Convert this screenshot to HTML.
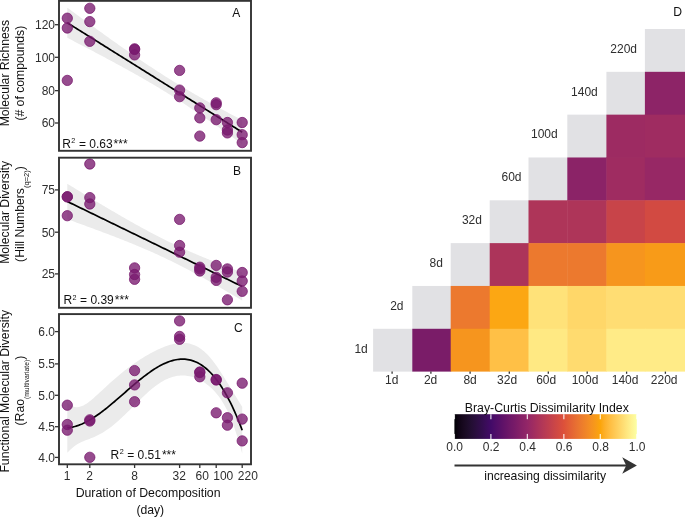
<!DOCTYPE html><html><head><meta charset="utf-8"><style>html,body{margin:0;padding:0;background:#fff;}svg{display:block;will-change:transform;font-family:"Liberation Sans",sans-serif;}</style></head><body>
<svg width="685" height="517" viewBox="0 0 685 517">
<rect width="685" height="517" fill="#fff"/>
<clipPath id="clipA"><rect x="59" y="0.85" width="192" height="149.95000000000002"/></clipPath>
<g clip-path="url(#clipA)">
<polygon points="67.30,37.82 68.77,38.58 70.24,39.34 71.71,40.11 73.18,40.87 74.65,41.63 76.12,42.39 77.59,43.16 79.06,43.92 80.53,44.69 82.00,45.46 83.47,46.22 84.94,46.99 86.41,47.76 87.88,48.53 89.35,49.30 90.82,50.08 92.29,50.85 93.76,51.62 95.23,52.40 96.69,53.17 98.16,53.95 99.63,54.73 101.10,55.51 102.57,56.29 104.04,57.08 105.51,57.86 106.98,58.65 108.45,59.43 109.92,60.22 111.39,61.01 112.86,61.80 114.33,62.60 115.80,63.39 117.27,64.19 118.74,64.99 120.21,65.79 121.68,66.60 123.15,67.40 124.62,68.21 126.09,69.02 127.56,69.83 129.03,70.65 130.50,71.47 131.97,72.29 133.44,73.11 134.91,73.94 136.38,74.77 137.85,75.60 139.32,76.44 140.79,77.27 142.26,78.12 143.73,78.96 145.20,79.81 146.67,80.66 148.14,81.52 149.61,82.38 151.08,83.24 152.55,84.11 154.02,84.98 155.48,85.86 156.95,86.74 158.42,87.62 159.89,88.51 161.36,89.40 162.83,90.30 164.30,91.20 165.77,92.10 167.24,93.01 168.71,93.93 170.18,94.85 171.65,95.77 173.12,96.70 174.59,97.63 176.06,98.57 177.53,99.51 179.00,100.45 180.47,101.40 181.94,102.36 183.41,103.32 184.88,104.28 186.35,105.25 187.82,106.22 189.29,107.19 190.76,108.17 192.23,109.15 193.70,110.14 195.17,111.13 196.64,112.12 198.11,113.12 199.58,114.12 201.05,115.12 202.52,116.12 203.99,117.13 205.46,118.15 206.93,119.16 208.40,120.18 209.87,121.20 211.34,122.22 212.81,123.25 214.27,124.28 215.74,125.31 217.21,126.34 218.68,127.37 220.15,128.41 221.62,129.45 223.09,130.49 224.56,131.53 226.03,132.58 227.50,133.62 228.97,134.67 230.44,135.72 231.91,136.77 233.38,137.82 234.85,138.88 236.32,139.94 237.79,140.99 239.26,142.05 240.73,143.11 242.20,144.17 242.20,120.19 240.73,119.41 239.26,118.64 237.79,117.85 236.32,117.07 234.85,116.29 233.38,115.51 231.91,114.72 230.44,113.93 228.97,113.14 227.50,112.35 226.03,111.56 224.56,110.76 223.09,109.97 221.62,109.17 220.15,108.37 218.68,107.57 217.21,106.76 215.74,105.96 214.27,105.15 212.81,104.34 211.34,103.52 209.87,102.71 208.40,101.89 206.93,101.07 205.46,100.24 203.99,99.42 202.52,98.59 201.05,97.75 199.58,96.92 198.11,96.08 196.64,95.24 195.17,94.39 193.70,93.54 192.23,92.69 190.76,91.83 189.29,90.97 187.82,90.11 186.35,89.24 184.88,88.36 183.41,87.49 181.94,86.61 180.47,85.72 179.00,84.83 177.53,83.94 176.06,83.04 174.59,82.14 173.12,81.23 171.65,80.32 170.18,79.41 168.71,78.49 167.24,77.56 165.77,76.63 164.30,75.70 162.83,74.76 161.36,73.82 159.89,72.87 158.42,71.92 156.95,70.97 155.48,70.01 154.02,69.05 152.55,68.08 151.08,67.11 149.61,66.13 148.14,65.15 146.67,64.17 145.20,63.18 143.73,62.19 142.26,61.20 140.79,60.20 139.32,59.20 137.85,58.20 136.38,57.19 134.91,56.18 133.44,55.17 131.97,54.15 130.50,53.13 129.03,52.11 127.56,51.09 126.09,50.06 124.62,49.04 123.15,48.00 121.68,46.97 120.21,45.94 118.74,44.90 117.27,43.86 115.80,42.82 114.33,41.78 112.86,40.73 111.39,39.68 109.92,38.64 108.45,37.58 106.98,36.53 105.51,35.48 104.04,34.43 102.57,33.37 101.10,32.31 99.63,31.25 98.16,30.19 96.69,29.13 95.23,28.07 93.76,27.01 92.29,25.94 90.82,24.88 89.35,23.81 87.88,22.74 86.41,21.67 84.94,20.60 83.47,19.53 82.00,18.46 80.53,17.39 79.06,16.32 77.59,15.24 76.12,14.17 74.65,13.09 73.18,12.02 71.71,10.94 70.24,9.86 68.77,8.78 67.30,7.70" fill="#ebebeb"/>
<polyline points="67.30,22.76 68.77,23.68 70.24,24.60 71.71,25.52 73.18,26.44 74.65,27.36 76.12,28.28 77.59,29.20 79.06,30.12 80.53,31.04 82.00,31.96 83.47,32.88 84.94,33.80 86.41,34.72 87.88,35.64 89.35,36.56 90.82,37.48 92.29,38.39 93.76,39.31 95.23,40.23 96.69,41.15 98.16,42.07 99.63,42.99 101.10,43.91 102.57,44.83 104.04,45.75 105.51,46.67 106.98,47.59 108.45,48.51 109.92,49.43 111.39,50.35 112.86,51.27 114.33,52.19 115.80,53.11 117.27,54.03 118.74,54.95 120.21,55.86 121.68,56.78 123.15,57.70 124.62,58.62 126.09,59.54 127.56,60.46 129.03,61.38 130.50,62.30 131.97,63.22 133.44,64.14 134.91,65.06 136.38,65.98 137.85,66.90 139.32,67.82 140.79,68.74 142.26,69.66 143.73,70.58 145.20,71.50 146.67,72.42 148.14,73.34 149.61,74.25 151.08,75.17 152.55,76.09 154.02,77.01 155.48,77.93 156.95,78.85 158.42,79.77 159.89,80.69 161.36,81.61 162.83,82.53 164.30,83.45 165.77,84.37 167.24,85.29 168.71,86.21 170.18,87.13 171.65,88.05 173.12,88.97 174.59,89.89 176.06,90.81 177.53,91.72 179.00,92.64 180.47,93.56 181.94,94.48 183.41,95.40 184.88,96.32 186.35,97.24 187.82,98.16 189.29,99.08 190.76,100.00 192.23,100.92 193.70,101.84 195.17,102.76 196.64,103.68 198.11,104.60 199.58,105.52 201.05,106.44 202.52,107.36 203.99,108.28 205.46,109.19 206.93,110.11 208.40,111.03 209.87,111.95 211.34,112.87 212.81,113.79 214.27,114.71 215.74,115.63 217.21,116.55 218.68,117.47 220.15,118.39 221.62,119.31 223.09,120.23 224.56,121.15 226.03,122.07 227.50,122.99 228.97,123.91 230.44,124.83 231.91,125.75 233.38,126.67 234.85,127.58 236.32,128.50 237.79,129.42 239.26,130.34 240.73,131.26 242.20,132.18" fill="none" stroke="#000" stroke-width="1.7" stroke-linejoin="round"/>
<circle cx="67.3" cy="18.2" r="5.15" fill="rgba(120,25,110,0.78)" stroke="rgba(120,25,110,0.78)" stroke-width="1.0"/>
<circle cx="67.3" cy="28.0" r="5.15" fill="rgba(120,25,110,0.78)" stroke="rgba(120,25,110,0.78)" stroke-width="1.0"/>
<circle cx="67.3" cy="80.4" r="5.15" fill="rgba(120,25,110,0.78)" stroke="rgba(120,25,110,0.78)" stroke-width="1.0"/>
<circle cx="89.8" cy="8.3" r="5.15" fill="rgba(120,25,110,0.78)" stroke="rgba(120,25,110,0.78)" stroke-width="1.0"/>
<circle cx="89.8" cy="21.6" r="5.15" fill="rgba(120,25,110,0.78)" stroke="rgba(120,25,110,0.78)" stroke-width="1.0"/>
<circle cx="89.8" cy="41.3" r="5.15" fill="rgba(120,25,110,0.78)" stroke="rgba(120,25,110,0.78)" stroke-width="1.0"/>
<circle cx="134.6" cy="48.8" r="5.15" fill="rgba(120,25,110,0.78)" stroke="rgba(120,25,110,0.78)" stroke-width="1.0"/>
<circle cx="134.6" cy="49.5" r="5.15" fill="rgba(120,25,110,0.78)" stroke="rgba(120,25,110,0.78)" stroke-width="1.0"/>
<circle cx="134.6" cy="54.9" r="5.15" fill="rgba(120,25,110,0.78)" stroke="rgba(120,25,110,0.78)" stroke-width="1.0"/>
<circle cx="179.6" cy="70.4" r="5.15" fill="rgba(120,25,110,0.78)" stroke="rgba(120,25,110,0.78)" stroke-width="1.0"/>
<circle cx="179.6" cy="90.1" r="5.15" fill="rgba(120,25,110,0.78)" stroke="rgba(120,25,110,0.78)" stroke-width="1.0"/>
<circle cx="179.6" cy="96.7" r="5.15" fill="rgba(120,25,110,0.78)" stroke="rgba(120,25,110,0.78)" stroke-width="1.0"/>
<circle cx="199.8" cy="107.9" r="5.15" fill="rgba(120,25,110,0.78)" stroke="rgba(120,25,110,0.78)" stroke-width="1.0"/>
<circle cx="199.8" cy="117.9" r="5.15" fill="rgba(120,25,110,0.78)" stroke="rgba(120,25,110,0.78)" stroke-width="1.0"/>
<circle cx="199.8" cy="136.1" r="5.15" fill="rgba(120,25,110,0.78)" stroke="rgba(120,25,110,0.78)" stroke-width="1.0"/>
<circle cx="216.2" cy="102.8" r="5.15" fill="rgba(120,25,110,0.78)" stroke="rgba(120,25,110,0.78)" stroke-width="1.0"/>
<circle cx="216.2" cy="104.7" r="5.15" fill="rgba(120,25,110,0.78)" stroke="rgba(120,25,110,0.78)" stroke-width="1.0"/>
<circle cx="216.2" cy="119.7" r="5.15" fill="rgba(120,25,110,0.78)" stroke="rgba(120,25,110,0.78)" stroke-width="1.0"/>
<circle cx="227.4" cy="122.5" r="5.15" fill="rgba(120,25,110,0.78)" stroke="rgba(120,25,110,0.78)" stroke-width="1.0"/>
<circle cx="227.4" cy="130" r="5.15" fill="rgba(120,25,110,0.78)" stroke="rgba(120,25,110,0.78)" stroke-width="1.0"/>
<circle cx="227.4" cy="132.9" r="5.15" fill="rgba(120,25,110,0.78)" stroke="rgba(120,25,110,0.78)" stroke-width="1.0"/>
<circle cx="242.2" cy="122.5" r="5.15" fill="rgba(120,25,110,0.78)" stroke="rgba(120,25,110,0.78)" stroke-width="1.0"/>
<circle cx="242.2" cy="134.7" r="5.15" fill="rgba(120,25,110,0.78)" stroke="rgba(120,25,110,0.78)" stroke-width="1.0"/>
<circle cx="242.2" cy="142.6" r="5.15" fill="rgba(120,25,110,0.78)" stroke="rgba(120,25,110,0.78)" stroke-width="1.0"/>
</g>
<rect x="59" y="0.85" width="192" height="149.95000000000002" fill="none" stroke="#333333" stroke-width="1.9"/>
<line x1="55" y1="24.7" x2="59" y2="24.7" stroke="#333333" stroke-width="1.3"/>
<text x="55" y="29.00" font-size="12" text-anchor="end" fill="#2e2e2e">120</text>
<line x1="55" y1="57.3" x2="59" y2="57.3" stroke="#333333" stroke-width="1.3"/>
<text x="55" y="61.60" font-size="12" text-anchor="end" fill="#2e2e2e">100</text>
<line x1="55" y1="90.65" x2="59" y2="90.65" stroke="#333333" stroke-width="1.3"/>
<text x="55" y="94.95" font-size="12" text-anchor="end" fill="#2e2e2e">80</text>
<line x1="55" y1="123.0" x2="59" y2="123.0" stroke="#333333" stroke-width="1.3"/>
<text x="55" y="127.30" font-size="12" text-anchor="end" fill="#2e2e2e">60</text>
<text x="62.20" y="147.5" font-size="12" fill="#111">R<tspan font-size="7.2" dx="0.5" dy="-4.2">2</tspan><tspan dy="4.2" dx="0.2"> = 0.63<tspan dx="1">***</tspan></tspan></text>
<text x="232.3" y="16.9" font-size="12" fill="#111">A</text>
<clipPath id="clipB"><rect x="59" y="157.7" width="192" height="150.10000000000002"/></clipPath>
<g clip-path="url(#clipB)">
<polygon points="67.30,219.23 68.77,219.76 70.24,220.29 71.71,220.81 73.18,221.34 74.65,221.87 76.12,222.40 77.59,222.94 79.06,223.47 80.53,224.00 82.00,224.54 83.47,225.07 84.94,225.61 86.41,226.15 87.88,226.68 89.35,227.22 90.82,227.76 92.29,228.31 93.76,228.85 95.23,229.39 96.69,229.94 98.16,230.49 99.63,231.04 101.10,231.59 102.57,232.14 104.04,232.69 105.51,233.25 106.98,233.80 108.45,234.36 109.92,234.92 111.39,235.49 112.86,236.05 114.33,236.62 115.80,237.19 117.27,237.76 118.74,238.33 120.21,238.91 121.68,239.48 123.15,240.06 124.62,240.65 126.09,241.23 127.56,241.82 129.03,242.41 130.50,243.01 131.97,243.61 133.44,244.21 134.91,244.81 136.38,245.42 137.85,246.03 139.32,246.65 140.79,247.27 142.26,247.89 143.73,248.52 145.20,249.15 146.67,249.78 148.14,250.42 149.61,251.07 151.08,251.71 152.55,252.37 154.02,253.03 155.48,253.69 156.95,254.36 158.42,255.03 159.89,255.71 161.36,256.39 162.83,257.08 164.30,257.77 165.77,258.47 167.24,259.17 168.71,259.88 170.18,260.59 171.65,261.31 173.12,262.03 174.59,262.76 176.06,263.50 177.53,264.24 179.00,264.98 180.47,265.73 181.94,266.49 183.41,267.25 184.88,268.01 186.35,268.78 187.82,269.56 189.29,270.34 190.76,271.12 192.23,271.91 193.70,272.70 195.17,273.50 196.64,274.30 198.11,275.10 199.58,275.91 201.05,276.72 202.52,277.54 203.99,278.36 205.46,279.18 206.93,280.01 208.40,280.84 209.87,281.67 211.34,282.51 212.81,283.35 214.27,284.19 215.74,285.03 217.21,285.88 218.68,286.73 220.15,287.58 221.62,288.44 223.09,289.30 224.56,290.16 226.03,291.02 227.50,291.88 228.97,292.75 230.44,293.61 231.91,294.48 233.38,295.35 234.85,296.23 236.32,297.10 237.79,297.98 239.26,298.86 240.73,299.74 242.20,300.62 242.20,272.39 240.73,271.84 239.26,271.29 237.79,270.74 236.32,270.19 234.85,269.63 233.38,269.08 231.91,268.52 230.44,267.96 228.97,267.40 227.50,266.84 226.03,266.27 224.56,265.71 223.09,265.14 221.62,264.57 220.15,263.99 218.68,263.42 217.21,262.84 215.74,262.26 214.27,261.67 212.81,261.08 211.34,260.50 209.87,259.90 208.40,259.31 206.93,258.71 205.46,258.11 203.99,257.50 202.52,256.89 201.05,256.28 199.58,255.66 198.11,255.04 196.64,254.42 195.17,253.79 193.70,253.16 192.23,252.52 190.76,251.88 189.29,251.24 187.82,250.59 186.35,249.94 184.88,249.28 183.41,248.61 181.94,247.94 180.47,247.27 179.00,246.59 177.53,245.91 176.06,245.22 174.59,244.53 173.12,243.83 171.65,243.12 170.18,242.41 168.71,241.70 167.24,240.98 165.77,240.25 164.30,239.52 162.83,238.79 161.36,238.04 159.89,237.30 158.42,236.55 156.95,235.79 155.48,235.03 154.02,234.26 152.55,233.49 151.08,232.72 149.61,231.94 148.14,231.15 146.67,230.36 145.20,229.57 143.73,228.77 142.26,227.97 140.79,227.17 139.32,226.36 137.85,225.54 136.38,224.73 134.91,223.91 133.44,223.08 131.97,222.25 130.50,221.42 129.03,220.59 127.56,219.75 126.09,218.91 124.62,218.07 123.15,217.23 121.68,216.38 120.21,215.53 118.74,214.67 117.27,213.82 115.80,212.96 114.33,212.10 112.86,211.24 111.39,210.38 109.92,209.51 108.45,208.64 106.98,207.77 105.51,206.90 104.04,206.03 102.57,205.15 101.10,204.27 99.63,203.40 98.16,202.52 96.69,201.63 95.23,200.75 93.76,199.87 92.29,198.98 90.82,198.10 89.35,197.21 87.88,196.32 86.41,195.43 84.94,194.54 83.47,193.65 82.00,192.75 80.53,191.86 79.06,190.96 77.59,190.07 76.12,189.17 74.65,188.27 73.18,187.37 71.71,186.48 70.24,185.58 68.77,184.67 67.30,183.77" fill="#ebebeb"/>
<polyline points="67.30,201.50 68.77,202.22 70.24,202.93 71.71,203.64 73.18,204.36 74.65,205.07 76.12,205.79 77.59,206.50 79.06,207.22 80.53,207.93 82.00,208.64 83.47,209.36 84.94,210.07 86.41,210.79 87.88,211.50 89.35,212.22 90.82,212.93 92.29,213.64 93.76,214.36 95.23,215.07 96.69,215.79 98.16,216.50 99.63,217.22 101.10,217.93 102.57,218.64 104.04,219.36 105.51,220.07 106.98,220.79 108.45,221.50 109.92,222.22 111.39,222.93 112.86,223.64 114.33,224.36 115.80,225.07 117.27,225.79 118.74,226.50 120.21,227.22 121.68,227.93 123.15,228.64 124.62,229.36 126.09,230.07 127.56,230.79 129.03,231.50 130.50,232.22 131.97,232.93 133.44,233.64 134.91,234.36 136.38,235.07 137.85,235.79 139.32,236.50 140.79,237.22 142.26,237.93 143.73,238.64 145.20,239.36 146.67,240.07 148.14,240.79 149.61,241.50 151.08,242.22 152.55,242.93 154.02,243.64 155.48,244.36 156.95,245.07 158.42,245.79 159.89,246.50 161.36,247.22 162.83,247.93 164.30,248.64 165.77,249.36 167.24,250.07 168.71,250.79 170.18,251.50 171.65,252.22 173.12,252.93 174.59,253.64 176.06,254.36 177.53,255.07 179.00,255.79 180.47,256.50 181.94,257.22 183.41,257.93 184.88,258.64 186.35,259.36 187.82,260.07 189.29,260.79 190.76,261.50 192.23,262.22 193.70,262.93 195.17,263.64 196.64,264.36 198.11,265.07 199.58,265.79 201.05,266.50 202.52,267.22 203.99,267.93 205.46,268.64 206.93,269.36 208.40,270.07 209.87,270.79 211.34,271.50 212.81,272.22 214.27,272.93 215.74,273.64 217.21,274.36 218.68,275.07 220.15,275.79 221.62,276.50 223.09,277.22 224.56,277.93 226.03,278.64 227.50,279.36 228.97,280.07 230.44,280.79 231.91,281.50 233.38,282.22 234.85,282.93 236.32,283.64 237.79,284.36 239.26,285.07 240.73,285.79 242.20,286.50" fill="none" stroke="#000" stroke-width="1.7" stroke-linejoin="round"/>
<circle cx="67.3" cy="196.7" r="5.15" fill="rgba(120,25,110,0.78)" stroke="rgba(120,25,110,0.78)" stroke-width="1.0"/>
<circle cx="67.3" cy="196.9" r="5.15" fill="rgba(120,25,110,0.78)" stroke="rgba(120,25,110,0.78)" stroke-width="1.0"/>
<circle cx="67.3" cy="215.7" r="5.15" fill="rgba(120,25,110,0.78)" stroke="rgba(120,25,110,0.78)" stroke-width="1.0"/>
<circle cx="89.8" cy="164.0" r="5.15" fill="rgba(120,25,110,0.78)" stroke="rgba(120,25,110,0.78)" stroke-width="1.0"/>
<circle cx="89.8" cy="197.6" r="5.15" fill="rgba(120,25,110,0.78)" stroke="rgba(120,25,110,0.78)" stroke-width="1.0"/>
<circle cx="89.8" cy="204" r="5.15" fill="rgba(120,25,110,0.78)" stroke="rgba(120,25,110,0.78)" stroke-width="1.0"/>
<circle cx="134.6" cy="267.9" r="5.15" fill="rgba(120,25,110,0.78)" stroke="rgba(120,25,110,0.78)" stroke-width="1.0"/>
<circle cx="134.6" cy="274.5" r="5.15" fill="rgba(120,25,110,0.78)" stroke="rgba(120,25,110,0.78)" stroke-width="1.0"/>
<circle cx="134.6" cy="279.3" r="5.15" fill="rgba(120,25,110,0.78)" stroke="rgba(120,25,110,0.78)" stroke-width="1.0"/>
<circle cx="179.6" cy="219.4" r="5.15" fill="rgba(120,25,110,0.78)" stroke="rgba(120,25,110,0.78)" stroke-width="1.0"/>
<circle cx="179.6" cy="245.5" r="5.15" fill="rgba(120,25,110,0.78)" stroke="rgba(120,25,110,0.78)" stroke-width="1.0"/>
<circle cx="179.6" cy="252.2" r="5.15" fill="rgba(120,25,110,0.78)" stroke="rgba(120,25,110,0.78)" stroke-width="1.0"/>
<circle cx="199.8" cy="267.2" r="5.15" fill="rgba(120,25,110,0.78)" stroke="rgba(120,25,110,0.78)" stroke-width="1.0"/>
<circle cx="199.8" cy="268.9" r="5.15" fill="rgba(120,25,110,0.78)" stroke="rgba(120,25,110,0.78)" stroke-width="1.0"/>
<circle cx="199.8" cy="271" r="5.15" fill="rgba(120,25,110,0.78)" stroke="rgba(120,25,110,0.78)" stroke-width="1.0"/>
<circle cx="216.2" cy="265.4" r="5.15" fill="rgba(120,25,110,0.78)" stroke="rgba(120,25,110,0.78)" stroke-width="1.0"/>
<circle cx="216.2" cy="277.3" r="5.15" fill="rgba(120,25,110,0.78)" stroke="rgba(120,25,110,0.78)" stroke-width="1.0"/>
<circle cx="216.2" cy="280.4" r="5.15" fill="rgba(120,25,110,0.78)" stroke="rgba(120,25,110,0.78)" stroke-width="1.0"/>
<circle cx="227.4" cy="268.9" r="5.15" fill="rgba(120,25,110,0.78)" stroke="rgba(120,25,110,0.78)" stroke-width="1.0"/>
<circle cx="227.4" cy="272" r="5.15" fill="rgba(120,25,110,0.78)" stroke="rgba(120,25,110,0.78)" stroke-width="1.0"/>
<circle cx="227.4" cy="299.8" r="5.15" fill="rgba(120,25,110,0.78)" stroke="rgba(120,25,110,0.78)" stroke-width="1.0"/>
<circle cx="242.2" cy="272.5" r="5.15" fill="rgba(120,25,110,0.78)" stroke="rgba(120,25,110,0.78)" stroke-width="1.0"/>
<circle cx="242.2" cy="281" r="5.15" fill="rgba(120,25,110,0.78)" stroke="rgba(120,25,110,0.78)" stroke-width="1.0"/>
<circle cx="242.2" cy="291.3" r="5.15" fill="rgba(120,25,110,0.78)" stroke="rgba(120,25,110,0.78)" stroke-width="1.0"/>
</g>
<rect x="59" y="157.7" width="192" height="150.10000000000002" fill="none" stroke="#333333" stroke-width="1.9"/>
<line x1="55" y1="189.9" x2="59" y2="189.9" stroke="#333333" stroke-width="1.3"/>
<text x="55" y="194.20" font-size="12" text-anchor="end" fill="#2e2e2e">75</text>
<line x1="55" y1="232.2" x2="59" y2="232.2" stroke="#333333" stroke-width="1.3"/>
<text x="55" y="236.50" font-size="12" text-anchor="end" fill="#2e2e2e">50</text>
<line x1="55" y1="273.9" x2="59" y2="273.9" stroke="#333333" stroke-width="1.3"/>
<text x="55" y="278.20" font-size="12" text-anchor="end" fill="#2e2e2e">25</text>
<text x="63.40" y="303.9" font-size="12" fill="#111">R<tspan font-size="7.2" dx="0.5" dy="-4.2">2</tspan><tspan dy="4.2" dx="0.2"> = 0.39<tspan dx="1">***</tspan></tspan></text>
<text x="232.9" y="175.1" font-size="12" fill="#111">B</text>
<clipPath id="clipC"><rect x="59" y="314.1" width="192" height="150.2"/></clipPath>
<g clip-path="url(#clipC)">
<polygon points="67.30,452.84 68.77,451.29 70.24,449.83 71.71,448.48 73.18,447.23 74.65,446.09 76.12,445.05 77.59,444.12 79.06,443.27 80.53,442.51 82.00,441.82 83.47,441.18 84.94,440.58 86.41,440.01 87.88,439.46 89.35,438.90 90.82,438.34 92.29,437.76 93.76,437.15 95.23,436.51 96.69,435.83 98.16,435.11 99.63,434.35 101.10,433.55 102.57,432.69 104.04,431.80 105.51,430.85 106.98,429.86 108.45,428.83 109.92,427.75 111.39,426.63 112.86,425.46 114.33,424.26 115.80,423.02 117.27,421.75 118.74,420.45 120.21,419.11 121.68,417.75 123.15,416.37 124.62,414.97 126.09,413.54 127.56,412.10 129.03,410.65 130.50,409.19 131.97,407.72 133.44,406.25 134.91,404.79 136.38,403.32 137.85,401.86 139.32,400.41 140.79,398.98 142.26,397.56 143.73,396.16 145.20,394.78 146.67,393.43 148.14,392.11 149.61,390.82 151.08,389.57 152.55,388.36 154.02,387.19 155.48,386.06 156.95,384.98 158.42,383.96 159.89,382.98 161.36,382.05 162.83,381.19 164.30,380.37 165.77,379.62 167.24,378.93 168.71,378.30 170.18,377.73 171.65,377.23 173.12,376.78 174.59,376.41 176.06,376.09 177.53,375.84 179.00,375.65 180.47,375.53 181.94,375.47 183.41,375.48 184.88,375.55 186.35,375.68 187.82,375.88 189.29,376.14 190.76,376.46 192.23,376.85 193.70,377.30 195.17,377.81 196.64,378.39 198.11,379.04 199.58,379.75 201.05,380.53 202.52,381.38 203.99,382.31 205.46,383.30 206.93,384.38 208.40,385.53 209.87,386.77 211.34,388.10 212.81,389.52 214.27,391.05 215.74,392.68 217.21,394.44 218.68,396.32 220.15,398.35 221.62,400.53 223.09,402.88 224.56,405.41 226.03,408.14 227.50,411.07 228.97,414.23 230.44,417.63 231.91,421.26 233.38,425.14 234.85,429.28 236.32,433.66 237.79,438.30 239.26,443.18 240.73,448.32 242.20,453.72 242.20,406.79 240.73,404.42 239.26,402.05 237.79,399.68 236.32,397.31 234.85,394.94 233.38,392.55 231.91,390.16 230.44,387.76 228.97,385.35 227.50,382.94 226.03,380.54 224.56,378.15 223.09,375.78 221.62,373.45 220.15,371.16 218.68,368.94 217.21,366.78 215.74,364.70 214.27,362.69 212.81,360.78 211.34,358.96 209.87,357.24 208.40,355.62 206.93,354.10 205.46,352.68 203.99,351.36 202.52,350.15 201.05,349.03 199.58,348.02 198.11,347.10 196.64,346.28 195.17,345.56 193.70,344.93 192.23,344.38 190.76,343.92 189.29,343.55 187.82,343.25 186.35,343.04 184.88,342.89 183.41,342.82 181.94,342.82 180.47,342.88 179.00,342.99 177.53,343.17 176.06,343.40 174.59,343.68 173.12,344.01 171.65,344.38 170.18,344.80 168.71,345.25 167.24,345.74 165.77,346.27 164.30,346.82 162.83,347.41 161.36,348.03 159.89,348.67 158.42,349.33 156.95,350.02 155.48,350.74 154.02,351.48 152.55,352.23 151.08,353.01 149.61,353.81 148.14,354.64 146.67,355.48 145.20,356.34 143.73,357.23 142.26,358.13 140.79,359.05 139.32,360.00 137.85,360.96 136.38,361.95 134.91,362.96 133.44,363.99 131.97,365.03 130.50,366.10 129.03,367.19 127.56,368.31 126.09,369.44 124.62,370.59 123.15,371.76 121.68,372.95 120.21,374.16 118.74,375.39 117.27,376.64 115.80,377.91 114.33,379.19 112.86,380.49 111.39,381.80 109.92,383.12 108.45,384.46 106.98,385.81 105.51,387.16 104.04,388.53 102.57,389.89 101.10,391.25 99.63,392.61 98.16,393.96 96.69,395.30 95.23,396.62 93.76,397.91 92.29,399.17 90.82,400.39 89.35,401.55 87.88,402.64 86.41,403.66 84.94,404.58 83.47,405.38 82.00,406.06 80.53,406.59 79.06,406.95 77.59,407.14 76.12,407.13 74.65,406.91 73.18,406.48 71.71,405.84 70.24,404.97 68.77,403.89 67.30,402.58" fill="#ebebeb"/>
<polyline points="67.30,427.71 68.77,427.59 70.24,427.40 71.71,427.16 73.18,426.86 74.65,426.50 76.12,426.09 77.59,425.63 79.06,425.11 80.53,424.55 82.00,423.94 83.47,423.28 84.94,422.58 86.41,421.84 87.88,421.05 89.35,420.23 90.82,419.36 92.29,418.46 93.76,417.53 95.23,416.56 96.69,415.57 98.16,414.54 99.63,413.48 101.10,412.40 102.57,411.29 104.04,410.16 105.51,409.01 106.98,407.84 108.45,406.64 109.92,405.44 111.39,404.21 112.86,402.97 114.33,401.73 115.80,400.47 117.27,399.20 118.74,397.92 120.21,396.64 121.68,395.35 123.15,394.07 124.62,392.78 126.09,391.49 127.56,390.20 129.03,388.92 130.50,387.65 131.97,386.38 133.44,385.12 134.91,383.87 136.38,382.63 137.85,381.41 139.32,380.20 140.79,379.01 142.26,377.84 143.73,376.69 145.20,375.56 146.67,374.46 148.14,373.37 149.61,372.32 151.08,371.29 152.55,370.30 154.02,369.33 155.48,368.40 156.95,367.50 158.42,366.64 159.89,365.82 161.36,365.04 162.83,364.30 164.30,363.60 165.77,362.94 167.24,362.34 168.71,361.78 170.18,361.27 171.65,360.81 173.12,360.40 174.59,360.04 176.06,359.75 177.53,359.51 179.00,359.32 180.47,359.20 181.94,359.15 183.41,359.15 184.88,359.22 186.35,359.36 187.82,359.57 189.29,359.84 190.76,360.19 192.23,360.61 193.70,361.11 195.17,361.69 196.64,362.34 198.11,363.07 199.58,363.88 201.05,364.78 202.52,365.76 203.99,366.83 205.46,367.99 206.93,369.24 208.40,370.57 209.87,372.00 211.34,373.53 212.81,375.15 214.27,376.87 215.74,378.69 217.21,380.61 218.68,382.63 220.15,384.76 221.62,386.99 223.09,389.33 224.56,391.78 226.03,394.34 227.50,397.01 228.97,399.79 230.44,402.69 231.91,405.71 233.38,408.85 234.85,412.11 236.32,415.49 237.79,418.99 239.26,422.62 240.73,426.37 242.20,430.25" fill="none" stroke="#000" stroke-width="1.7" stroke-linejoin="round"/>
<circle cx="67.3" cy="405.2" r="5.15" fill="rgba(120,25,110,0.78)" stroke="rgba(120,25,110,0.78)" stroke-width="1.0"/>
<circle cx="67.3" cy="424.5" r="5.15" fill="rgba(120,25,110,0.78)" stroke="rgba(120,25,110,0.78)" stroke-width="1.0"/>
<circle cx="67.3" cy="430.2" r="5.15" fill="rgba(120,25,110,0.78)" stroke="rgba(120,25,110,0.78)" stroke-width="1.0"/>
<circle cx="89.8" cy="419.8" r="5.15" fill="rgba(120,25,110,0.78)" stroke="rgba(120,25,110,0.78)" stroke-width="1.0"/>
<circle cx="89.8" cy="421" r="5.15" fill="rgba(120,25,110,0.78)" stroke="rgba(120,25,110,0.78)" stroke-width="1.0"/>
<circle cx="89.8" cy="457.3" r="5.15" fill="rgba(120,25,110,0.78)" stroke="rgba(120,25,110,0.78)" stroke-width="1.0"/>
<circle cx="134.6" cy="370.6" r="5.15" fill="rgba(120,25,110,0.78)" stroke="rgba(120,25,110,0.78)" stroke-width="1.0"/>
<circle cx="134.6" cy="384.9" r="5.15" fill="rgba(120,25,110,0.78)" stroke="rgba(120,25,110,0.78)" stroke-width="1.0"/>
<circle cx="134.6" cy="401.7" r="5.15" fill="rgba(120,25,110,0.78)" stroke="rgba(120,25,110,0.78)" stroke-width="1.0"/>
<circle cx="179.6" cy="320.9" r="5.15" fill="rgba(120,25,110,0.78)" stroke="rgba(120,25,110,0.78)" stroke-width="1.0"/>
<circle cx="179.6" cy="336.4" r="5.15" fill="rgba(120,25,110,0.78)" stroke="rgba(120,25,110,0.78)" stroke-width="1.0"/>
<circle cx="179.6" cy="339.3" r="5.15" fill="rgba(120,25,110,0.78)" stroke="rgba(120,25,110,0.78)" stroke-width="1.0"/>
<circle cx="199.8" cy="372" r="5.15" fill="rgba(120,25,110,0.78)" stroke="rgba(120,25,110,0.78)" stroke-width="1.0"/>
<circle cx="199.8" cy="372.5" r="5.15" fill="rgba(120,25,110,0.78)" stroke="rgba(120,25,110,0.78)" stroke-width="1.0"/>
<circle cx="199.8" cy="376.8" r="5.15" fill="rgba(120,25,110,0.78)" stroke="rgba(120,25,110,0.78)" stroke-width="1.0"/>
<circle cx="216.2" cy="379.5" r="5.15" fill="rgba(120,25,110,0.78)" stroke="rgba(120,25,110,0.78)" stroke-width="1.0"/>
<circle cx="216.2" cy="380" r="5.15" fill="rgba(120,25,110,0.78)" stroke="rgba(120,25,110,0.78)" stroke-width="1.0"/>
<circle cx="216.2" cy="412.8" r="5.15" fill="rgba(120,25,110,0.78)" stroke="rgba(120,25,110,0.78)" stroke-width="1.0"/>
<circle cx="227.4" cy="392.8" r="5.15" fill="rgba(120,25,110,0.78)" stroke="rgba(120,25,110,0.78)" stroke-width="1.0"/>
<circle cx="227.4" cy="417.7" r="5.15" fill="rgba(120,25,110,0.78)" stroke="rgba(120,25,110,0.78)" stroke-width="1.0"/>
<circle cx="227.4" cy="425.2" r="5.15" fill="rgba(120,25,110,0.78)" stroke="rgba(120,25,110,0.78)" stroke-width="1.0"/>
<circle cx="242.2" cy="383.2" r="5.15" fill="rgba(120,25,110,0.78)" stroke="rgba(120,25,110,0.78)" stroke-width="1.0"/>
<circle cx="242.2" cy="419.1" r="5.15" fill="rgba(120,25,110,0.78)" stroke="rgba(120,25,110,0.78)" stroke-width="1.0"/>
<circle cx="242.2" cy="440.9" r="5.15" fill="rgba(120,25,110,0.78)" stroke="rgba(120,25,110,0.78)" stroke-width="1.0"/>
</g>
<rect x="59" y="314.1" width="192" height="150.2" fill="none" stroke="#333333" stroke-width="1.9"/>
<line x1="55" y1="331.6" x2="59" y2="331.6" stroke="#333333" stroke-width="1.3"/>
<text x="55" y="335.90" font-size="12" text-anchor="end" fill="#2e2e2e">6.0</text>
<line x1="55" y1="363.9" x2="59" y2="363.9" stroke="#333333" stroke-width="1.3"/>
<text x="55" y="368.20" font-size="12" text-anchor="end" fill="#2e2e2e">5.5</text>
<line x1="55" y1="395.3" x2="59" y2="395.3" stroke="#333333" stroke-width="1.3"/>
<text x="55" y="399.60" font-size="12" text-anchor="end" fill="#2e2e2e">5.0</text>
<line x1="55" y1="426.7" x2="59" y2="426.7" stroke="#333333" stroke-width="1.3"/>
<text x="55" y="431.00" font-size="12" text-anchor="end" fill="#2e2e2e">4.5</text>
<line x1="55" y1="457.4" x2="59" y2="457.4" stroke="#333333" stroke-width="1.3"/>
<text x="55" y="461.70" font-size="12" text-anchor="end" fill="#2e2e2e">4.0</text>
<text x="110.50" y="458.5" font-size="12" fill="#111">R<tspan font-size="7.2" dx="0.5" dy="-4.2">2</tspan><tspan dy="4.2" dx="0.2"> = 0.51<tspan dx="1">***</tspan></tspan></text>
<text x="234.1" y="331.8" font-size="12" fill="#111">C</text>
<line x1="67.3" y1="464.3" x2="67.3" y2="468" stroke="#333333" stroke-width="1.3"/>
<text x="67.1" y="480.4" font-size="12" text-anchor="middle" fill="#2e2e2e">1</text>
<line x1="89.8" y1="464.3" x2="89.8" y2="468" stroke="#333333" stroke-width="1.3"/>
<text x="89.7" y="480.4" font-size="12" text-anchor="middle" fill="#2e2e2e">2</text>
<line x1="134.6" y1="464.3" x2="134.6" y2="468" stroke="#333333" stroke-width="1.3"/>
<text x="134.6" y="480.4" font-size="12" text-anchor="middle" fill="#2e2e2e">8</text>
<line x1="179.6" y1="464.3" x2="179.6" y2="468" stroke="#333333" stroke-width="1.3"/>
<text x="179.2" y="480.4" font-size="12" text-anchor="middle" fill="#2e2e2e">32</text>
<line x1="199.8" y1="464.3" x2="199.8" y2="468" stroke="#333333" stroke-width="1.3"/>
<text x="202.2" y="480.4" font-size="12" text-anchor="middle" fill="#2e2e2e">60</text>
<line x1="216.2" y1="464.3" x2="216.2" y2="468" stroke="#333333" stroke-width="1.3"/>
<text x="223.25" y="480.4" font-size="12" text-anchor="middle" fill="#2e2e2e">100</text>
<line x1="242.2" y1="464.3" x2="242.2" y2="468" stroke="#333333" stroke-width="1.3"/>
<text x="247.85" y="480.4" font-size="12" text-anchor="middle" fill="#2e2e2e">220</text>
<text x="148.1" y="497" font-size="12.3" text-anchor="middle" fill="#111">Duration of Decomposition</text>
<text x="150.3" y="514" font-size="12.2" text-anchor="middle" fill="#111">(day)</text>
<text transform="translate(9.0,73.2) rotate(-90)" font-size="12.2" text-anchor="middle" fill="#111">Molecular Richness</text>
<text transform="translate(24.1,73.2) rotate(-90)" font-size="12.2" text-anchor="middle" fill="#111">(# of compounds)</text>
<text transform="translate(9.0,212.4) rotate(-90)" font-size="12.2" text-anchor="middle" fill="#111">Molecular Diversity</text>
<text transform="translate(24.1,214.0) rotate(-90)" font-size="12.2" text-anchor="middle" fill="#111">(Hill Numbers<tspan font-size="7.6" dy="4.5">(q=2)</tspan><tspan dy="-4.5">)</tspan></text>
<text transform="translate(9.0,391.3) rotate(-90)" font-size="12.2" text-anchor="middle" fill="#111">Functional Molecular Diversity</text>
<text transform="translate(24.1,390.6) rotate(-90)" font-size="12.2" text-anchor="middle" fill="#111">(Rao<tspan font-size="6.8" dy="4.5">(multivariate)</tspan><tspan dy="-4.5">)</tspan></text>
<rect x="644.90" y="29.00" width="40.60" height="43.33" fill="#e1e1e4"/>
<rect x="606.40" y="71.82" width="39.00" height="43.33" fill="#e1e1e4"/>
<rect x="644.90" y="71.82" width="40.60" height="43.33" fill="#8d2467"/>
<rect x="567.30" y="114.65" width="39.60" height="43.33" fill="#e1e1e4"/>
<rect x="606.40" y="114.65" width="39.00" height="43.33" fill="#9d2b62"/>
<rect x="644.90" y="114.65" width="40.60" height="43.33" fill="#9f2c61"/>
<rect x="528.50" y="157.48" width="39.30" height="43.33" fill="#e1e1e4"/>
<rect x="567.30" y="157.48" width="39.60" height="43.33" fill="#8b2367"/>
<rect x="606.40" y="157.48" width="39.00" height="43.33" fill="#9f2c61"/>
<rect x="644.90" y="157.48" width="40.60" height="43.33" fill="#972865"/>
<rect x="489.70" y="200.30" width="39.30" height="43.33" fill="#e1e1e4"/>
<rect x="528.50" y="200.30" width="39.30" height="43.33" fill="#ae3559"/>
<rect x="567.30" y="200.30" width="39.60" height="43.33" fill="#ae3559"/>
<rect x="606.40" y="200.30" width="39.00" height="43.33" fill="#c84449"/>
<rect x="644.90" y="200.30" width="40.60" height="43.33" fill="#d24a42"/>
<rect x="450.70" y="243.12" width="39.50" height="43.33" fill="#e1e1e4"/>
<rect x="489.70" y="243.12" width="39.30" height="43.33" fill="#ac345a"/>
<rect x="528.50" y="243.12" width="39.30" height="43.33" fill="#ec792e"/>
<rect x="567.30" y="243.12" width="39.60" height="43.33" fill="#ec792e"/>
<rect x="606.40" y="243.12" width="39.00" height="43.33" fill="#f6951e"/>
<rect x="644.90" y="243.12" width="40.60" height="43.33" fill="#f89b18"/>
<rect x="412.30" y="285.95" width="38.90" height="43.33" fill="#e1e1e4"/>
<rect x="450.70" y="285.95" width="39.50" height="43.33" fill="#ec792e"/>
<rect x="489.70" y="285.95" width="39.30" height="43.33" fill="#fca713"/>
<rect x="528.50" y="285.95" width="39.30" height="43.33" fill="#ffe279"/>
<rect x="567.30" y="285.95" width="39.60" height="43.33" fill="#ffd769"/>
<rect x="606.40" y="285.95" width="39.00" height="43.33" fill="#ffdd73"/>
<rect x="644.90" y="285.95" width="40.60" height="43.33" fill="#ffdd73"/>
<rect x="373.10" y="328.78" width="39.70" height="42.83" fill="#e1e1e4"/>
<rect x="412.30" y="328.78" width="38.90" height="42.83" fill="#7a1c68"/>
<rect x="450.70" y="328.78" width="39.50" height="42.83" fill="#f6951e"/>
<rect x="489.70" y="328.78" width="39.30" height="42.83" fill="#ffc046"/>
<rect x="528.50" y="328.78" width="39.30" height="42.83" fill="#ffe983"/>
<rect x="567.30" y="328.78" width="39.60" height="42.83" fill="#ffdb6f"/>
<rect x="606.40" y="328.78" width="39.00" height="42.83" fill="#ffeb87"/>
<rect x="644.90" y="328.78" width="40.60" height="42.83" fill="#ffeb87"/>
<text x="361.10" y="352.8" font-size="12" text-anchor="middle" fill="#2e2e2e">1d</text>
<text x="396.85" y="309.8" font-size="12" text-anchor="middle" fill="#2e2e2e">2d</text>
<text x="436.25" y="266.55" font-size="12" text-anchor="middle" fill="#2e2e2e">8d</text>
<text x="471.90" y="224.2" font-size="12" text-anchor="middle" fill="#2e2e2e">32d</text>
<text x="511.50" y="181.1" font-size="12" text-anchor="middle" fill="#2e2e2e">60d</text>
<text x="544.35" y="138.39999999999998" font-size="12" text-anchor="middle" fill="#2e2e2e">100d</text>
<text x="584.40" y="95.7" font-size="12" text-anchor="middle" fill="#2e2e2e">140d</text>
<text x="623.65" y="53.300000000000004" font-size="12" text-anchor="middle" fill="#2e2e2e">220d</text>
<line x1="392.10" y1="371.6" x2="392.10" y2="373.8" stroke="#333333" stroke-width="1.3"/>
<text x="391.75" y="383.8" font-size="12" text-anchor="middle" fill="#2e2e2e">1d</text>
<line x1="430.90" y1="371.6" x2="430.90" y2="373.8" stroke="#333333" stroke-width="1.3"/>
<text x="430.60" y="383.8" font-size="12" text-anchor="middle" fill="#2e2e2e">2d</text>
<line x1="470.10" y1="371.6" x2="470.10" y2="373.8" stroke="#333333" stroke-width="1.3"/>
<text x="470.10" y="383.8" font-size="12" text-anchor="middle" fill="#2e2e2e">8d</text>
<line x1="509.30" y1="371.6" x2="509.30" y2="373.8" stroke="#333333" stroke-width="1.3"/>
<text x="507.05" y="383.8" font-size="12" text-anchor="middle" fill="#2e2e2e">32d</text>
<line x1="548.30" y1="371.6" x2="548.30" y2="373.8" stroke="#333333" stroke-width="1.3"/>
<text x="546.15" y="383.8" font-size="12" text-anchor="middle" fill="#2e2e2e">60d</text>
<line x1="587.20" y1="371.6" x2="587.20" y2="373.8" stroke="#333333" stroke-width="1.3"/>
<text x="585.00" y="383.8" font-size="12" text-anchor="middle" fill="#2e2e2e">100d</text>
<line x1="626.60" y1="371.6" x2="626.60" y2="373.8" stroke="#333333" stroke-width="1.3"/>
<text x="625.10" y="383.8" font-size="12" text-anchor="middle" fill="#2e2e2e">140d</text>
<line x1="665.40" y1="371.6" x2="665.40" y2="373.8" stroke="#333333" stroke-width="1.3"/>
<text x="664.20" y="383.8" font-size="12" text-anchor="middle" fill="#2e2e2e">220d</text>
<text x="673.2" y="16" font-size="12.2" fill="#111">D</text>
<linearGradient id="cb" x1="0" y1="0" x2="1" y2="0"><stop offset="0.000" stop-color="#000004"/><stop offset="0.025" stop-color="#0f0415"/><stop offset="0.050" stop-color="#180920"/><stop offset="0.075" stop-color="#1e0d2b"/><stop offset="0.100" stop-color="#250e36"/><stop offset="0.125" stop-color="#2c0e42"/><stop offset="0.150" stop-color="#330d4e"/><stop offset="0.175" stop-color="#3b0c5b"/><stop offset="0.200" stop-color="#420a68"/><stop offset="0.225" stop-color="#4e0d68"/><stop offset="0.250" stop-color="#581068"/><stop offset="0.275" stop-color="#631368"/><stop offset="0.300" stop-color="#6d1768"/><stop offset="0.325" stop-color="#761a68"/><stop offset="0.350" stop-color="#801e67"/><stop offset="0.375" stop-color="#8a2267"/><stop offset="0.400" stop-color="#932667"/><stop offset="0.425" stop-color="#9d2b62"/><stop offset="0.450" stop-color="#a7305d"/><stop offset="0.475" stop-color="#b03658"/><stop offset="0.500" stop-color="#b93b53"/><stop offset="0.525" stop-color="#c2404d"/><stop offset="0.550" stop-color="#cb4647"/><stop offset="0.575" stop-color="#d44b41"/><stop offset="0.600" stop-color="#dd513a"/><stop offset="0.625" stop-color="#e15d37"/><stop offset="0.650" stop-color="#e56834"/><stop offset="0.675" stop-color="#e97331"/><stop offset="0.700" stop-color="#ed7d2c"/><stop offset="0.725" stop-color="#f18727"/><stop offset="0.750" stop-color="#f59121"/><stop offset="0.775" stop-color="#f89b18"/><stop offset="0.800" stop-color="#fca50a"/><stop offset="0.825" stop-color="#feb02a"/><stop offset="0.850" stop-color="#ffbc3f"/><stop offset="0.875" stop-color="#ffc751"/><stop offset="0.900" stop-color="#ffd262"/><stop offset="0.925" stop-color="#ffdd73"/><stop offset="0.950" stop-color="#ffe983"/><stop offset="0.975" stop-color="#fef494"/><stop offset="1.000" stop-color="#fcffa4"/></linearGradient>
<rect x="454.4" y="414.2" width="182.4" height="24.7" fill="url(#cb)"/>
<line x1="454.40" y1="414.2" x2="454.40" y2="419.2" stroke="#fff" stroke-opacity="0.8" stroke-width="1.3"/>
<line x1="454.40" y1="433.9" x2="454.40" y2="438.9" stroke="#fff" stroke-opacity="0.8" stroke-width="1.3"/>
<text x="454.70" y="451.3" font-size="12" text-anchor="middle" fill="#2e2e2e">0.0</text>
<line x1="490.88" y1="414.2" x2="490.88" y2="419.2" stroke="#fff" stroke-opacity="0.8" stroke-width="1.3"/>
<line x1="490.88" y1="433.9" x2="490.88" y2="438.9" stroke="#fff" stroke-opacity="0.8" stroke-width="1.3"/>
<text x="491.18" y="451.3" font-size="12" text-anchor="middle" fill="#2e2e2e">0.2</text>
<line x1="527.36" y1="414.2" x2="527.36" y2="419.2" stroke="#fff" stroke-opacity="0.8" stroke-width="1.3"/>
<line x1="527.36" y1="433.9" x2="527.36" y2="438.9" stroke="#fff" stroke-opacity="0.8" stroke-width="1.3"/>
<text x="527.66" y="451.3" font-size="12" text-anchor="middle" fill="#2e2e2e">0.4</text>
<line x1="563.84" y1="414.2" x2="563.84" y2="419.2" stroke="#fff" stroke-opacity="0.8" stroke-width="1.3"/>
<line x1="563.84" y1="433.9" x2="563.84" y2="438.9" stroke="#fff" stroke-opacity="0.8" stroke-width="1.3"/>
<text x="564.14" y="451.3" font-size="12" text-anchor="middle" fill="#2e2e2e">0.6</text>
<line x1="600.32" y1="414.2" x2="600.32" y2="419.2" stroke="#fff" stroke-opacity="0.8" stroke-width="1.3"/>
<line x1="600.32" y1="433.9" x2="600.32" y2="438.9" stroke="#fff" stroke-opacity="0.8" stroke-width="1.3"/>
<text x="600.62" y="451.3" font-size="12" text-anchor="middle" fill="#2e2e2e">0.8</text>
<line x1="636.80" y1="414.2" x2="636.80" y2="419.2" stroke="#fff" stroke-opacity="0.8" stroke-width="1.3"/>
<line x1="636.80" y1="433.9" x2="636.80" y2="438.9" stroke="#fff" stroke-opacity="0.8" stroke-width="1.3"/>
<text x="637.10" y="451.3" font-size="12" text-anchor="middle" fill="#2e2e2e">1.0</text>
<text x="464.8" y="411.6" font-size="12.3" fill="#111">Bray-Curtis Dissimilarity Index</text>
<line x1="454.5" y1="465.5" x2="627" y2="465.5" stroke="#333" stroke-width="2"/>
<polygon points="636.9,465.5 622.2,457.3 626.2,465.5 622.2,473.7" fill="#333"/>
<text x="484.2" y="480" font-size="12.2" fill="#111">increasing dissimilarity</text>
</svg></body></html>
